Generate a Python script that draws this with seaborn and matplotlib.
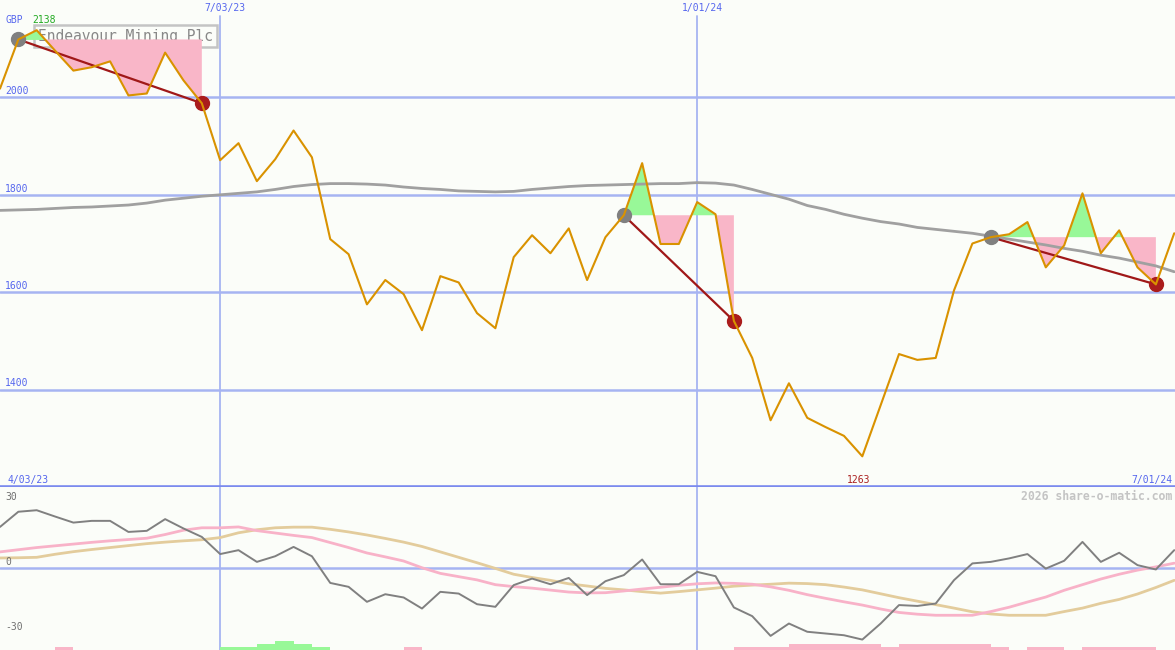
import numpy as np
import pandas as pd
import matplotlib
matplotlib.use("Agg")
import matplotlib.pyplot as plt
import matplotlib.dates as mdates
import seaborn as sns

# ---------------- data (weekly) ----------------
start_date = "2023-04-10"
n_weeks = 65

price = [2018, 2119, 2138, 2096, 2055, 2062, 2074, 2004, 2008, 2092, 2035, 1988,
         1871, 1906, 1828, 1873, 1932, 1877, 1709, 1678, 1575, 1625, 1596, 1522,
         1633, 1620, 1557, 1526, 1672, 1717, 1680, 1731, 1625, 1713, 1758, 1865,
         1699, 1699, 1785, 1760, 1541, 1465, 1337, 1413, 1342, 1323, 1305, 1263,
         1368, 1473, 1461, 1465, 1604, 1700, 1713, 1719, 1744, 1651, 1696, 1803,
         1680, 1727, 1651, 1616, 1721]

moving_avg = [1768, 1769, 1770, 1772, 1774, 1775, 1777, 1779, 1783, 1789, 1793, 1797,
              1800, 1803, 1806, 1811, 1817, 1821, 1823, 1823, 1822, 1820, 1816, 1813,
              1811, 1808, 1807, 1806, 1807, 1811, 1814, 1817, 1819, 1820, 1821, 1822,
              1823, 1823, 1825, 1824, 1820, 1811, 1801, 1791, 1778, 1770, 1760, 1752,
              1745, 1740, 1733, 1729, 1725, 1721, 1715, 1709, 1703, 1697, 1690, 1684,
              1676, 1670, 1662, 1654, 1642]

momentum = [19.0, 26.0, 26.7, 23.8, 21.0, 21.8, 21.8, 16.7, 17.2, 22.6, 18.3, 14.4,
            6.5, 8.3, 2.9, 5.5, 9.8, 5.5, -6.8, -8.6, -15.5, -12.0, -13.5, -18.6,
            -10.9, -11.7, -16.6, -17.8, -7.8, -4.8, -7.4, -4.5, -12.4, -6.0, -3.2, 4.0,
            -7.4, -7.4, -1.7, -3.7, -18.1, -22.1, -31.2, -25.5, -29.3, -30.1, -30.9, -32.9,
            -25.5, -17.0, -17.4, -16.3, -5.5, 2.2, 2.9, 4.5, 6.5, -0.2, 3.4, 12.1,
            2.9, 7.1, 1.4, -0.6, 8.3]

signal_fast = [7.5, 8.5, 9.5, 10.3, 11.1, 11.9, 12.6, 13.2, 13.8, 15.5, 17.5, 18.6,
               18.6, 19.0, 17.3, 16.2, 15.1, 14.1, 11.8, 9.5, 7.0, 5.2, 3.3, 0.2,
               -2.4, -3.9, -5.4, -7.6, -8.5, -9.2, -10.1, -11.0, -11.4, -11.3, -10.5, -9.6,
               -8.8, -7.9, -7.2, -6.8, -7.0, -7.4, -8.6, -10.2, -12.2, -13.9, -15.5, -17.0,
               -18.8, -20.4, -21.2, -21.7, -21.7, -21.7, -20.0, -18.0, -15.6, -13.3, -10.2, -7.6,
               -5.0, -2.8, -0.9, 0.6, 2.3]

signal_slow = [4.7, 4.8, 5.0, 6.4, 7.6, 8.6, 9.5, 10.4, 11.3, 12.0, 12.6, 13.1,
               14.1, 16.3, 17.7, 18.6, 18.9, 18.9, 17.9, 16.7, 15.3, 13.7, 12.0, 10.0,
               7.5, 5.0, 2.5, -0.1, -2.8, -4.3, -5.6, -7.2, -8.2, -9.3, -10.0, -10.8,
               -11.5, -10.8, -10.0, -9.2, -8.3, -7.8, -7.4, -6.9, -7.1, -7.6, -8.7, -10.0,
               -11.8, -13.6, -15.2, -16.8, -18.4, -20.1, -21.1, -21.7, -21.7, -21.7, -20.0, -18.4,
               -16.2, -14.4, -11.9, -8.9, -5.6]

# bar indicator levels at the bottom of the oscillator panel (+ green, - pink)
bar_levels = [0, 0, 0, -1, 0, 0, 0, 0, 0, 0, 0, 0,
              1, 1, 2, 3, 2, 1, 0, 0, 0, 0, -1, 0,
              0, 0, 0, 0, 0, 0, 0, 0, 0, 0, 0, 0,
              0, 0, 0, 0, -1, -1, -1, -2, -2, -2, -2, -2,
              -1, -2, -2, -2, -2, -2, -1, 0, -1, -1, 0, -1,
              -1, -1, -1, 0, 0]

# trend periods (start week index, end week index)
periods = [(1, 11), (34, 40), (54, 63)]

price_ticks = [1400, 1600, 1800, 2000]
osc_ticks = [30, 0, -30]
osc_tick_labels = ["30", "0", "-30"]
vlines = ["2023-07-03", "2024-01-01"]
vline_labels = ["7/03/23", "1/01/24"]
left_label = "4/03/23"
right_label = "7/01/24"
title = "Endeavour Mining Plc"
currency = "GBP"
watermark = "2026 share-o-matic.com"

# ---------------- build frame ----------------
dates = pd.date_range(start_date, periods=n_weeks, freq="7D")
df = pd.DataFrame({"date": dates, "price": price, "ma": moving_avg,
                   "mom": momentum, "sf": signal_fast, "ss": signal_slow,
                   "bar": bar_levels})

W, H = 1175, 650
BG = "#fbfdf9"
GRID = "#a6b4f2"
BLUE_TXT = "#5566ee"

sns.set_style("white")
plt.rcParams["font.family"] = ["DejaVu Sans Mono"]

fig = plt.figure(figsize=(W / 100, H / 100), dpi=100, facecolor=BG)
split = 487
ax = fig.add_axes([0, (H - split) / H, 1, split / H])
ax2 = fig.add_axes([0, 0, 1, (H - split) / H], sharex=ax)
for a in (ax, ax2):
    a.set_facecolor(BG)
    for s in a.spines.values():
        s.set_visible(False)
    a.tick_params(left=False, bottom=False, labelleft=False, labelbottom=False)

x0 = dates[0]
x1 = dates[0] + pd.Timedelta(days=448.3)
ax.set_xlim(x0, x1)
ax.set_ylim(1200, 2200)
ax2.set_ylim(-37.7, 37.4)

# grid
for t in price_ticks:
    ax.axhline(t, color=GRID, lw=1.8, zorder=0.5)
for d in vlines:
    ax.axvline(pd.Timestamp(d), ymin=0, ymax=1 - 16 / split, color=GRID, lw=1.3, zorder=0.5)
    ax2.axvline(pd.Timestamp(d), color=GRID, lw=1.3, zorder=0.5)
ax2.axhline(0, color=GRID, lw=1.8, zorder=0.5)
ax.axhline(1200, color="#7b8aee", lw=2.6, zorder=6, clip_on=False)

# title box (behind the fills)
ax.text(38 / W, 1 - 36 / split, title, transform=ax.transAxes, ha="left", va="center",
        fontsize=10.5, color="#888888", zorder=0.8,
        bbox=dict(boxstyle="square,pad=0.25", fc=BG, ec="#c4c4c4", lw=1.8))

# period fills and trend lines
xnum = mdates.date2num(dates.to_pydatetime())
parr = np.array(price, dtype=float)
for s, e in periods:
    xs = xnum[s:e + 1]
    ys = parr[s:e + 1]
    base = parr[s]
    ax.fill_between(xs, ys, base, where=ys >= base, interpolate=True,
                    color="#98f898", lw=0, zorder=1)
    ax.fill_between(xs, ys, base, where=ys <= base, interpolate=True,
                    color="#f9b6c8", lw=0, zorder=1)
    seg = df.iloc[[s, e]]
    sns.lineplot(data=seg, x="date", y="price", ax=ax, color="#a01818", lw=1.6,
                 zorder=3, legend=False)
    ax.plot(dates[s], price[s], "o", ms=10, color="#808080", zorder=4)
    ax.plot(dates[e], price[e], "o", ms=10, color="#aa1c1c", zorder=4)

sns.lineplot(data=df, x="date", y="ma", ax=ax, color="#a0a0a0", lw=2, zorder=2, legend=False)
sns.lineplot(data=df, x="date", y="price", ax=ax, color="#d99200", lw=1.5, zorder=5,
             legend=False)

# oscillator
sns.lineplot(data=df, x="date", y="ss", ax=ax2, color="#e3cc9c", lw=2, zorder=2, legend=False)
sns.lineplot(data=df, x="date", y="sf", ax=ax2, color="#f8b2c8", lw=2, zorder=2, legend=False)
sns.lineplot(data=df, x="date", y="mom", ax=ax2, color="#808080", lw=1.4, zorder=3,
             legend=False)
ylow = ax2.get_ylim()[0]
for d, lv in zip(dates, bar_levels):
    if lv != 0:
        ax2.bar(d, abs(lv) * 1.38, width=7, bottom=ylow, align="edge",
                color="#98f898" if lv > 0 else "#f9b6c8", lw=0, zorder=1)

for a in (ax, ax2):
    a.set_xlabel("")
    a.set_ylabel("")
ax.set_xlim(x0, x1)


def px(x, y):
    return x / W, 1 - y / H


# labels
fig.text(*px(5, 20), currency, color=BLUE_TXT, fontsize=7, ha="left", va="center")
fig.text(*px(32, 20), str(max(price)), color="#22aa22", fontsize=7, ha="left", va="center")
for t in price_ticks:
    ypix = 97 + (2000 - t) * (292.5 / 600)
    fig.text(*px(5, ypix - 6), str(t), color=BLUE_TXT, fontsize=7, ha="left", va="center")
for d, lab in zip(vlines, vline_labels):
    xpix = (pd.Timestamp(d) - x0).days * (W / 448.3)
    fig.text(*px(xpix + 5, 8), lab, color=BLUE_TXT, fontsize=7, ha="center", va="center")
fig.text(*px(7, 480), left_label, color=BLUE_TXT, fontsize=7, ha="left", va="center")
fig.text(*px(1172, 480), right_label, color=BLUE_TXT, fontsize=7, ha="right", va="center")
imin = int(np.argmin(price))
xmin_pix = (dates[imin] - x0).days * (W / 448.3)
fig.text(*px(xmin_pix - 4, 480), str(min(price)), color="#aa2020", fontsize=7,
         ha="center", va="center")
fig.text(*px(1172, 496), watermark, color="#c4c4c4", fontsize=8.3, ha="right",
         va="center", fontweight="bold")
for t, lab in zip(osc_ticks, osc_tick_labels):
    ypix = 568 - t * (65 / 30)
    fig.text(*px(5, ypix - 6), lab, color="#707070",
             fontsize=7, ha="left", va="center")

fig.savefig("out.png", dpi=100, facecolor=BG)
